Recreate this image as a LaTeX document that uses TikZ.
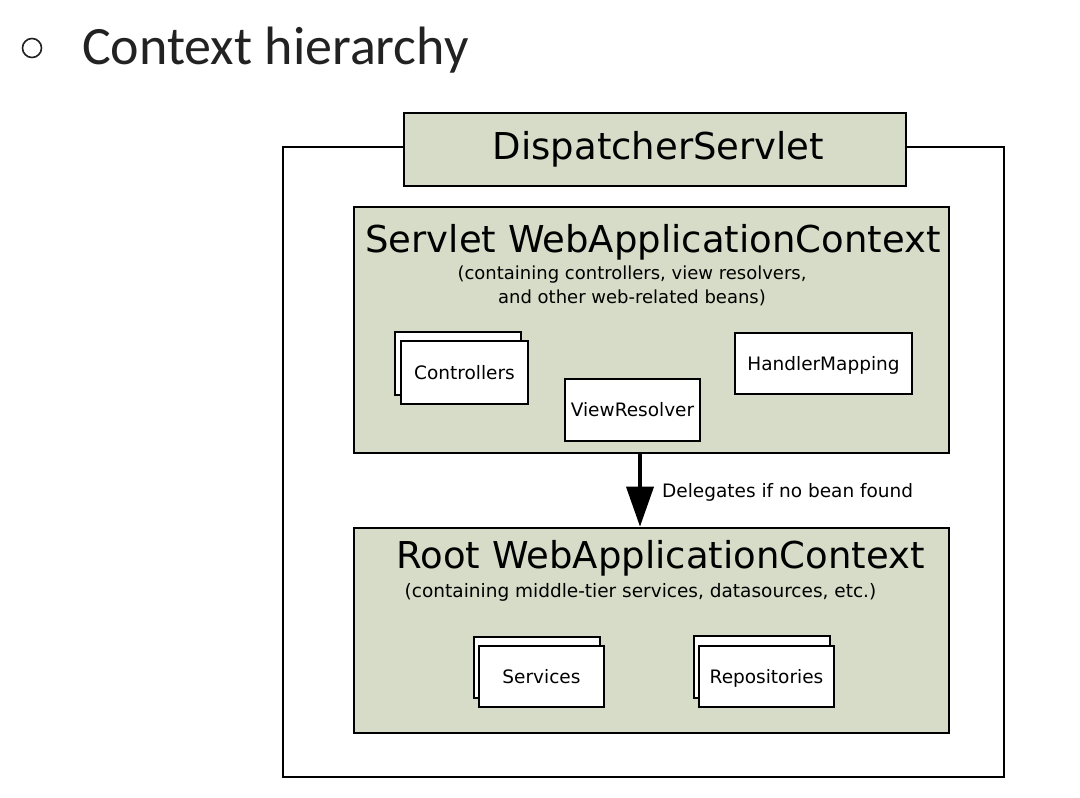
\documentclass[tikz,border=0pt]{standalone}
\usepackage{fontspec}
\setmainfont{DejaVu Sans}
\newfontfamily\headfont{Carlito}
\usetikzlibrary{arrows.meta}
\definecolor{ctxfill}{RGB}{214,220,199}
\definecolor{headgray}{RGB}{34,34,34}
\begin{document}
\begin{tikzpicture}[x=1pt,y=-1pt,
  ctxbox/.style={draw=black, fill=ctxfill, line width=2.6pt, inner sep=0pt},
  beanbox/.style={draw=black, fill=white, line width=1.8pt, inner sep=0pt,
    text height=13.5pt, text depth=0pt, font=\fontsize{18.5}{22}\selectfont},
  bigtitle/.style={anchor=base, inner sep=0pt, font=\fontsize{37}{44}\selectfont},
  smalltext/.style={anchor=base, inner sep=0pt, font=\fontsize{18.5}{22}\selectfont},
  delegarrow/.style={line width=3.8pt, -{Triangle[width=27pt,length=40pt]}}]
\useasboundingbox (0,0) rectangle (1080,798);
% heading
\node[draw=headgray, line width=1.6pt, circle, minimum size=19pt, inner sep=0pt] (bullet) at (32,48) {};
\node[anchor=base west, inner sep=0pt, text=headgray, font=\headfont\fontsize{54}{60}\selectfont] (heading) at (82,64) {Context hierarchy};
% outer frame
\node[draw=black, line width=2pt, minimum width=721pt, minimum height=630pt, inner sep=0pt] (outer) at (643.5,462) {};
% dispatcher servlet
\node[ctxbox, minimum width=502pt, minimum height=73pt] (dispatcher) at (655,149.5) {};
\node[bigtitle] (disptext) at (658.5,159.5) {DispatcherServlet};
% servlet context
\node[ctxbox, minimum width=595pt, minimum height=246pt] (servlet) at (651.5,330) {};
\node[bigtitle] (servtitle) at (653,252) {Servlet WebApplicationContext};
\node[smalltext, font=\fontsize{18}{22}\selectfont] (servsub1) at (632,279) {(containing controllers, view resolvers,};
\node[smalltext, font=\fontsize{18}{22}\selectfont] (servsub2) at (632,303) {and other web-related beans)};
\node[beanbox, minimum width=126pt, minimum height=63pt] (ctrlback) at (458,363.5) {};
\node[beanbox, minimum width=127pt, minimum height=63pt] (ctrl) at (464.5,372.5) {Controllers};
\node[beanbox, minimum width=135pt, minimum height=62pt] (viewres) at (632.5,410) {ViewResolver};
\node[beanbox, minimum width=177pt, minimum height=61pt] (handler) at (823.5,363.5) {HandlerMapping};
% root context
\node[ctxbox, minimum width=595pt, minimum height=205pt] (root) at (651.5,630.5) {};
\node[bigtitle] (roottitle) at (660.5,568) {Root WebApplicationContext};
\node[smalltext] (rootsub) at (640.5,597) {(containing middle-tier services, datasources, etc.)};
\node[beanbox, minimum width=126pt, minimum height=61pt] (servback) at (537,667.5) {};
\node[beanbox, minimum width=125pt, minimum height=61pt] (services) at (541.5,676.5) {Services};
\node[beanbox, minimum width=136pt, minimum height=62pt] (repoback) at (762,667) {};
\node[beanbox, minimum width=135pt, minimum height=61pt] (repos) at (766.5,676.5) {Repositories};
% delegation arrow
\draw[delegarrow] ([xshift=-11.5pt]servlet.south) -- ([xshift=-11.5pt]root.north);
\node[smalltext, anchor=base west] (delegate) at (662,497) {Delegates if no bean found};
\end{tikzpicture}
\end{document}
